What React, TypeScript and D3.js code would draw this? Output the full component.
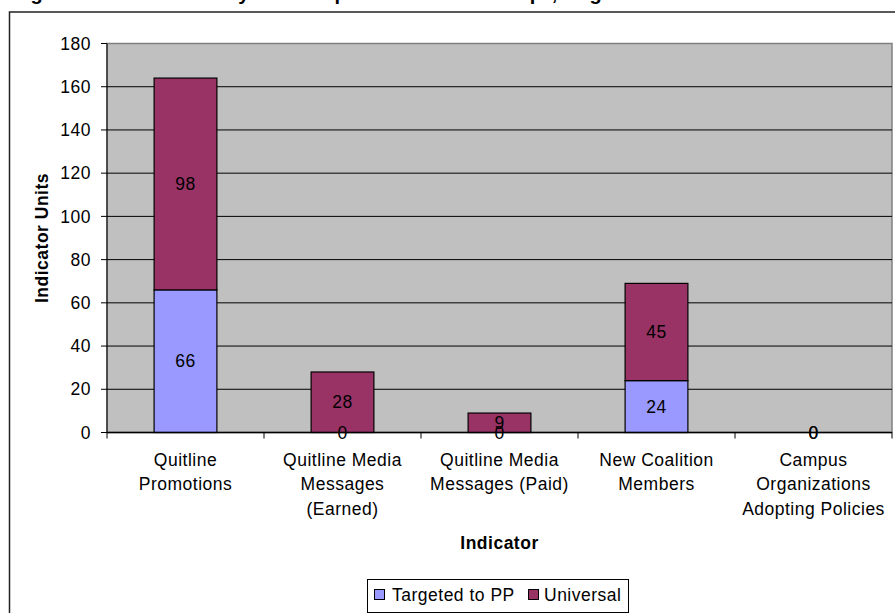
import React from "react";
import * as d3 from "d3";

// Indicator categories (multi-line labels)
const categories: string[][] = [
  ["Quitline", "Promotions"],
  ["Quitline Media", "Messages", "(Earned)"],
  ["Quitline Media", "Messages (Paid)"],
  ["New Coalition", "Members"],
  ["Campus", "Organizations", "Adopting Policies"],
];

// Stacked series values
const targeted: number[] = [66, 0, 0, 24, 0];
const universal: number[] = [98, 28, 9, 45, 0];

const yTicks: number[] = [0, 20, 40, 60, 80, 100, 120, 140, 160, 180];

const seriesNames = ["Targeted to PP", "Universal"];
const seriesColors = ["#9999FF", "#993366"];

const titleText =
  "Figure 4: Indicator Activity Total Outputs for Student Groups, Targeted to PP and Universal";

const FONT = "Arial, 'Liberation Sans', sans-serif";
const FS = 17.5;
const LS = 0.5;

export default function App() {
  const width = 895;
  const height = 613;
  const plot = { left: 107, right: 892, top: 43.5, bottom: 432.5 };

  const x = d3
    .scaleBand<number>()
    .domain(categories.map((_, i) => i))
    .range([plot.left, plot.right])
    .paddingInner(0.6)
    .paddingOuter(0.3);

  const y = d3.scaleLinear().domain([0, 180]).range([plot.bottom, plot.top]);

  const stackData = categories.map((_, i) => ({ i, t: targeted[i], u: universal[i] }));
  const stack = d3.stack<{ i: number; t: number; u: number }>().keys(["t", "u"]);
  const layers = stack(stackData);

  const gap = (x.step() - x.bandwidth()) / 2;
  const boundaries = categories.map((_, i) => (x(i) as number) - gap);
  boundaries.push(plot.right);

  const cx = (i: number) => (x(i) as number) + x.bandwidth() / 2;

  return (
    <svg
      width={width}
      height={height}
      style={{ position: "absolute", left: 0, top: 0, background: "#fff" }}
      fontFamily={FONT}
      letterSpacing={LS}
    >
      {/* title, sitting above the visible area */}
      <text x={14} y={-0.5} fontSize={20} fontWeight="bold" letterSpacing={-0.6} fill="#000">
        {titleText}
      </text>

      {/* chart frame */}
      <rect x={9.5} y={12} width={900} height={620} fill="#fff" stroke="#222" strokeWidth={1.5} />

      {/* plot area */}
      <rect
        x={plot.left}
        y={plot.top}
        width={plot.right - plot.left}
        height={plot.bottom - plot.top}
        fill="#C0C0C0"
        stroke="#808080"
        strokeWidth={1.5}
      />

      {/* gridlines */}
      {yTicks
        .filter((t) => t > 0 && t < 180)
        .map((t) => (
          <line
            key={"g" + t}
            x1={plot.left}
            x2={plot.right}
            y1={y(t)}
            y2={y(t)}
            stroke="#000"
            strokeWidth={1}
          />
        ))}

      {/* stacked bars */}
      {layers.map((layer, li) =>
        layer.map((d, i) =>
          d[1] - d[0] > 0 ? (
            <rect
              key={`b${li}-${i}`}
              x={x(i)}
              y={y(d[1])}
              width={x.bandwidth()}
              height={y(d[0]) - y(d[1])}
              fill={seriesColors[li]}
              stroke="#000"
              strokeWidth={1.2}
            />
          ) : null
        )
      )}

      {/* y axis */}
      <line x1={plot.left} x2={plot.left} y1={plot.top} y2={plot.bottom} stroke="#000" strokeWidth={1} />
      {yTicks.map((t) => (
        <g key={"yt" + t}>
          <line x1={plot.left - 6} x2={plot.left} y1={y(t)} y2={y(t)} stroke="#000" strokeWidth={1} />
          <text x={91} y={y(t)} dy="0.35em" textAnchor="end" fontSize={FS} fill="#000">
            {t}
          </text>
        </g>
      ))}

      {/* x axis */}
      <line x1={plot.left} x2={plot.right} y1={plot.bottom} y2={plot.bottom} stroke="#000" strokeWidth={1.5} />
      {boundaries.map((bx, i) => (
        <line key={"xt" + i} x1={bx} x2={bx} y1={plot.bottom} y2={plot.bottom + 6} stroke="#000" strokeWidth={1} />
      ))}

      {/* data labels */}
      {layers.map((layer, li) =>
        layer.map((d, i) => (
          <text
            key={`l${li}-${i}`}
            x={cx(i)}
            y={y((d[0] + d[1]) / 2)}
            dy="0.35em"
            textAnchor="middle"
            fontSize={FS}
            fill="#000"
          >
            {d[1] - d[0]}
          </text>
        ))
      )}

      {/* category labels */}
      {categories.map((lines, i) => (
        <text key={"c" + i} x={cx(i)} y={465.5} textAnchor="middle" fontSize={FS} fill="#000">
          {lines.map((ln, k) => (
            <tspan key={k} x={cx(i)} dy={k === 0 ? 0 : 24.5}>
              {ln}
            </tspan>
          ))}
        </text>
      ))}

      {/* axis titles */}
      <text
        x={(plot.left + plot.right) / 2}
        y={549}
        textAnchor="middle"
        fontSize={FS}
        fontWeight="bold"
        fill="#000"
      >
        Indicator
      </text>
      <text
        transform={`translate(48, ${(plot.top + plot.bottom) / 2}) rotate(-90)`}
        textAnchor="middle"
        fontSize={FS}
        fontWeight="bold"
        fill="#000"
      >
        Indicator Units
      </text>

      {/* legend */}
      <rect x={367.5} y={579.5} width={261} height={33} fill="#fff" stroke="#000" strokeWidth={1} />
      <rect x={374.5} y={589.5} width={10} height={10} fill={seriesColors[0]} stroke="#000" strokeWidth={1} />
      <text x={392} y={600.5} fontSize={FS} fill="#000">
        {seriesNames[0]}
      </text>
      <rect x={528.5} y={589.5} width={10} height={10} fill={seriesColors[1]} stroke="#000" strokeWidth={1} />
      <text x={544} y={600.5} fontSize={FS} fill="#000">
        {seriesNames[1]}
      </text>
    </svg>
  );
}
